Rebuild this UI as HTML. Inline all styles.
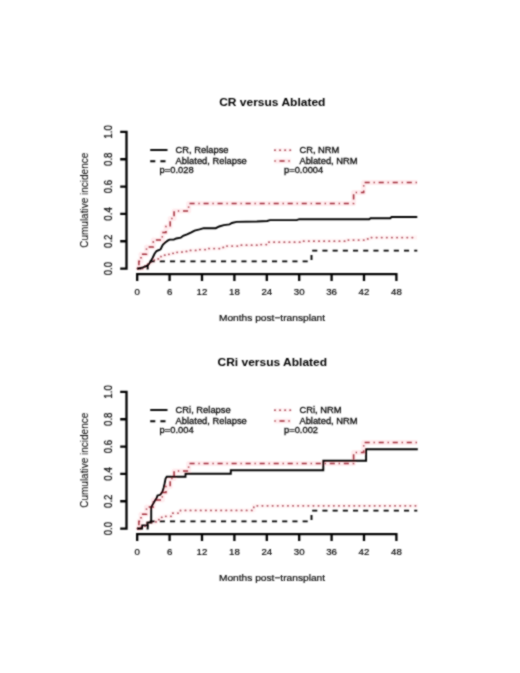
<!DOCTYPE html>
<html><head><meta charset="utf-8"><style>
html,body{margin:0;padding:0;background:#fff;}
body{width:520px;height:673px;overflow:hidden;}
svg{display:block;font-family:"Liberation Sans",sans-serif;}
text{fill:#000;stroke:#000;stroke-width:0.2px;}
</style></head><body>
<svg width="520" height="673" viewBox="0 0 520 673">
<defs><filter id="b" filterUnits="userSpaceOnUse" x="0" y="0" width="520" height="673"><feConvolveMatrix order="3" kernelMatrix="1 2 1 2 8 2 1 2 1" divisor="20" edgeMode="none"/></filter></defs>
<rect width="520" height="673" fill="#fff"/>
<g filter="url(#b)">
<g transform="translate(0,0)">
<text transform="translate(272.3,105.6) scale(1,0.98)" text-anchor="middle" font-size="12" font-weight="bold" style="stroke:none">CR versus Ablated</text>
<path d="M120.2,131.9H126.5V268.6H120.2M120.2,241.26H126.5M120.2,213.92H126.5M120.2,186.58H126.5M120.2,159.24H126.5" stroke="#000" stroke-width="2.3" fill="none"/>
<text transform="translate(112.1,268.60) rotate(-90) scale(1,1.2)" text-anchor="middle" font-size="9.7">0.0</text>
<text transform="translate(112.1,241.26) rotate(-90) scale(1,1.2)" text-anchor="middle" font-size="9.7">0.2</text>
<text transform="translate(112.1,213.92) rotate(-90) scale(1,1.2)" text-anchor="middle" font-size="9.7">0.4</text>
<text transform="translate(112.1,186.58) rotate(-90) scale(1,1.2)" text-anchor="middle" font-size="9.7">0.6</text>
<text transform="translate(112.1,159.24) rotate(-90) scale(1,1.2)" text-anchor="middle" font-size="9.7">0.8</text>
<text transform="translate(112.1,131.90) rotate(-90) scale(1,1.2)" text-anchor="middle" font-size="9.7">1.0</text>
<path d="M137.2,281.1V274.1H396.4V281.1M169.6,274.1V281.1M202.0,274.1V281.1M234.4,274.1V281.1M266.8,274.1V281.1M299.2,274.1V281.1M331.6,274.1V281.1M364.0,274.1V281.1" stroke="#000" stroke-width="2.3" fill="none"/>
<text transform="translate(137.2,294.9) scale(1,0.92)" text-anchor="middle" font-size="9.7">0</text>
<text transform="translate(169.6,294.9) scale(1,0.92)" text-anchor="middle" font-size="9.7">6</text>
<text transform="translate(202.0,294.9) scale(1,0.92)" text-anchor="middle" font-size="9.7">12</text>
<text transform="translate(234.4,294.9) scale(1,0.92)" text-anchor="middle" font-size="9.7">18</text>
<text transform="translate(266.8,294.9) scale(1,0.92)" text-anchor="middle" font-size="9.7">24</text>
<text transform="translate(299.2,294.9) scale(1,0.92)" text-anchor="middle" font-size="9.7">30</text>
<text transform="translate(331.6,294.9) scale(1,0.92)" text-anchor="middle" font-size="9.7">36</text>
<text transform="translate(364.0,294.9) scale(1,0.92)" text-anchor="middle" font-size="9.7">42</text>
<text transform="translate(396.4,294.9) scale(1,0.92)" text-anchor="middle" font-size="9.7">48</text>
<text transform="translate(272,320.6) scale(1,0.9)" text-anchor="middle" font-size="10.2">Months post−transplant</text>
<text transform="translate(87.6,200.25) rotate(-90)" text-anchor="middle" font-size="10" style="stroke-width:0.05px">Cumulative incidence</text>
<path d="M150.2,150H167.5" stroke="#000" stroke-width="1.9" fill="none"/>
<path d="M150.2,161.3H167.5" stroke="#000" stroke-width="1.9" stroke-dasharray="5.1 5.1" fill="none"/>
<text transform="translate(175.6,152.9) scale(1,1.0)" font-size="9.35" style="stroke-width:0.28px">CR, Relapse</text>
<text transform="translate(175.6,164.0) scale(1,1.0)" font-size="9.35" style="stroke-width:0.28px">Ablated, Relapse</text>
<text transform="translate(159.6,173.0) scale(1,1.0)" font-size="9.35" style="stroke-width:0.28px">p=0.028</text>
<path d="M274.8,150.2H291" stroke="#ff6a78" stroke-opacity="0.08" stroke-width="4" fill="none" stroke-linejoin="round"/>
<path d="M274.4,161.1H291" stroke="#ff6a78" stroke-opacity="0.13" stroke-width="5" fill="none" stroke-linejoin="round"/>
<path d="M274.8,150.2H291" stroke="#b0505e" stroke-width="1.75" stroke-linecap="round" stroke-dasharray="0.3 4.80" fill="none"/>
<path d="M274.4,161.1H291" stroke="#a02834" stroke-width="1.5" stroke-dasharray="1.275 3.8249999999999997 5.1 3.8249999999999997" fill="none"/>
<text transform="translate(299.4,152.9) scale(1,1.0)" font-size="9.35" style="stroke-width:0.28px">CR, NRM</text>
<text transform="translate(299.4,164.0) scale(1,1.0)" font-size="9.35" style="stroke-width:0.28px">Ablated, NRM</text>
<text transform="translate(284,173.2) scale(1,1.0)" font-size="9.35" style="stroke-width:0.28px">p=0.0004</text>
</g>
<polyline points="137.2,268.6 144.0,268.6 144.0,266.0 148.0,266.0 148.0,263.5 151.0,263.5 151.0,261.5 154.0,261.5 154.0,260.0 156.0,260.0 156.0,258.9 159.0,258.9 159.0,257.5 161.0,257.5 161.0,256.5 164.0,256.5 164.0,255.2 167.0,255.2 167.0,254.3 171.0,254.3 171.0,253.3 176.0,253.3 176.0,252.3 182.0,252.3 182.0,251.4 190.0,251.4 190.0,250.4 198.0,250.4 198.0,249.6 209.0,249.6 209.0,248.5 221.0,248.5 221.0,247.4 226.0,247.4 226.0,246.1 241.0,246.1 241.0,245.2 258.0,245.2 258.0,244.5 268.5,244.5 268.5,242.2 301.0,242.2 301.0,241.2 347.0,241.2 347.0,240.0 366.0,240.0 366.0,238.9 370.0,238.9 370.0,237.6 417.0,237.6" stroke="#ff6a78" stroke-opacity="0.08" stroke-width="4" fill="none" stroke-linejoin="round"/>
<polyline points="137.2,268.6 138.9,268.6 138.9,261.3 141.0,261.3 141.0,254.2 146.5,254.2 146.5,246.9 153.3,246.9 153.3,240.1 162.3,240.1 162.3,232.5 166.0,232.5 166.0,226.5 170.2,226.5 170.2,218.5 174.1,218.5 174.1,211.1 188.6,211.1 188.6,203.6 353.6,203.6 353.6,192.6 363.7,192.6 363.7,182.4 417.0,182.4" stroke="#ff6a78" stroke-opacity="0.13" stroke-width="5" fill="none" stroke-linejoin="round"/>
<polyline points="137.2,268.6 144.0,268.6 144.0,266.0 148.0,266.0 148.0,263.5 151.0,263.5 151.0,261.5 154.0,261.5 154.0,260.0 156.0,260.0 156.0,258.9 159.0,258.9 159.0,257.5 161.0,257.5 161.0,256.5 164.0,256.5 164.0,255.2 167.0,255.2 167.0,254.3 171.0,254.3 171.0,253.3 176.0,253.3 176.0,252.3 182.0,252.3 182.0,251.4 190.0,251.4 190.0,250.4 198.0,250.4 198.0,249.6 209.0,249.6 209.0,248.5 221.0,248.5 221.0,247.4 226.0,247.4 226.0,246.1 241.0,246.1 241.0,245.2 258.0,245.2 258.0,244.5 268.5,244.5 268.5,242.2 301.0,242.2 301.0,241.2 347.0,241.2 347.0,240.0 366.0,240.0 366.0,238.9 370.0,238.9 370.0,237.6 417.0,237.6" stroke="#b0505e" stroke-width="1.75" stroke-linecap="round" stroke-dasharray="0.3 4.80" fill="none"/>
<polyline points="137.2,268.6 138.9,268.6 138.9,261.3 141.0,261.3 141.0,254.2 146.5,254.2 146.5,246.9 153.3,246.9 153.3,240.1 162.3,240.1 162.3,232.5 166.0,232.5 166.0,226.5 170.2,226.5 170.2,218.5 174.1,218.5 174.1,211.1 188.6,211.1 188.6,203.6 353.6,203.6 353.6,192.6 363.7,192.6 363.7,182.4 417.0,182.4" stroke="#a02834" stroke-width="1.5" stroke-dasharray="1.275 3.8249999999999997 5.1 3.8249999999999997" fill="none"/>
<polyline points="137.2,268.6 147.7,268.6 147.7,261.4 311.5,261.4 311.5,250.6 417.3,250.6" stroke="#000" stroke-width="1.9" stroke-dasharray="5.1 5.1" fill="none" stroke-dashoffset="0.8"/>
<polyline points="137.2,268.6 142.7,267.5 146.7,266.0 148.5,264.5 150.3,262.0 152.6,258.0 154.4,254.0 156.5,251.0 159.0,250.0 160.6,249.3 161.9,246.5 163.0,244.5 165.2,242.5 168.1,240.4 169.5,239.6 173.8,239.6 176.2,238.5 180.8,237.7 183.1,235.8 187.0,234.4 190.8,232.6 194.6,230.6 199.6,229.4 203.7,228.2 215.8,228.2 219.2,226.5 223.8,225.1 229.6,224.4 231.9,223.0 236.5,221.9 256.9,221.5 267.3,221.0 269.9,220.1 296.7,220.1 299.3,219.2 369.3,219.2 370.5,218.2 390.3,218.2 391.5,217.0 417.3,217.0" stroke="#000" stroke-width="1.9" fill="none"/>
<g transform="translate(0,260)">
<text transform="translate(272.3,105.6) scale(1,0.98)" text-anchor="middle" font-size="12" font-weight="bold" style="stroke:none">CRi versus Ablated</text>
<path d="M120.2,131.9H126.5V268.6H120.2M120.2,241.26H126.5M120.2,213.92H126.5M120.2,186.58H126.5M120.2,159.24H126.5" stroke="#000" stroke-width="2.3" fill="none"/>
<text transform="translate(112.1,268.60) rotate(-90) scale(1,1.2)" text-anchor="middle" font-size="9.7">0.0</text>
<text transform="translate(112.1,241.26) rotate(-90) scale(1,1.2)" text-anchor="middle" font-size="9.7">0.2</text>
<text transform="translate(112.1,213.92) rotate(-90) scale(1,1.2)" text-anchor="middle" font-size="9.7">0.4</text>
<text transform="translate(112.1,186.58) rotate(-90) scale(1,1.2)" text-anchor="middle" font-size="9.7">0.6</text>
<text transform="translate(112.1,159.24) rotate(-90) scale(1,1.2)" text-anchor="middle" font-size="9.7">0.8</text>
<text transform="translate(112.1,131.90) rotate(-90) scale(1,1.2)" text-anchor="middle" font-size="9.7">1.0</text>
<path d="M137.2,281.1V274.1H396.4V281.1M169.6,274.1V281.1M202.0,274.1V281.1M234.4,274.1V281.1M266.8,274.1V281.1M299.2,274.1V281.1M331.6,274.1V281.1M364.0,274.1V281.1" stroke="#000" stroke-width="2.3" fill="none"/>
<text transform="translate(137.2,294.9) scale(1,0.92)" text-anchor="middle" font-size="9.7">0</text>
<text transform="translate(169.6,294.9) scale(1,0.92)" text-anchor="middle" font-size="9.7">6</text>
<text transform="translate(202.0,294.9) scale(1,0.92)" text-anchor="middle" font-size="9.7">12</text>
<text transform="translate(234.4,294.9) scale(1,0.92)" text-anchor="middle" font-size="9.7">18</text>
<text transform="translate(266.8,294.9) scale(1,0.92)" text-anchor="middle" font-size="9.7">24</text>
<text transform="translate(299.2,294.9) scale(1,0.92)" text-anchor="middle" font-size="9.7">30</text>
<text transform="translate(331.6,294.9) scale(1,0.92)" text-anchor="middle" font-size="9.7">36</text>
<text transform="translate(364.0,294.9) scale(1,0.92)" text-anchor="middle" font-size="9.7">42</text>
<text transform="translate(396.4,294.9) scale(1,0.92)" text-anchor="middle" font-size="9.7">48</text>
<text transform="translate(272,320.6) scale(1,0.9)" text-anchor="middle" font-size="10.2">Months post−transplant</text>
<text transform="translate(87.6,200.25) rotate(-90)" text-anchor="middle" font-size="10" style="stroke-width:0.05px">Cumulative incidence</text>
<path d="M150.2,150H167.5" stroke="#000" stroke-width="1.9" fill="none"/>
<path d="M150.2,161.3H167.5" stroke="#000" stroke-width="1.9" stroke-dasharray="5.1 5.1" fill="none"/>
<text transform="translate(175.6,152.9) scale(1,1.0)" font-size="9.35" style="stroke-width:0.28px">CRi, Relapse</text>
<text transform="translate(175.6,164.0) scale(1,1.0)" font-size="9.35" style="stroke-width:0.28px">Ablated, Relapse</text>
<text transform="translate(159.6,173.0) scale(1,1.0)" font-size="9.35" style="stroke-width:0.28px">p=0.004</text>
<path d="M274.8,150.2H291" stroke="#ff6a78" stroke-opacity="0.08" stroke-width="4" fill="none" stroke-linejoin="round"/>
<path d="M274.4,161.1H291" stroke="#ff6a78" stroke-opacity="0.13" stroke-width="5" fill="none" stroke-linejoin="round"/>
<path d="M274.8,150.2H291" stroke="#b0505e" stroke-width="1.75" stroke-linecap="round" stroke-dasharray="0.3 4.80" fill="none"/>
<path d="M274.4,161.1H291" stroke="#a02834" stroke-width="1.5" stroke-dasharray="1.275 3.8249999999999997 5.1 3.8249999999999997" fill="none"/>
<text transform="translate(299.4,152.9) scale(1,1.0)" font-size="9.35" style="stroke-width:0.28px">CRi, NRM</text>
<text transform="translate(299.4,164.0) scale(1,1.0)" font-size="9.35" style="stroke-width:0.28px">Ablated, NRM</text>
<text transform="translate(284,173.2) scale(1,1.0)" font-size="9.35" style="stroke-width:0.28px">p=0.002</text>
</g>
<polyline points="137.2,528.6 141.0,528.6 141.0,526.0 147.0,526.0 147.0,522.5 156.0,522.5 156.0,519.5 160.0,519.5 160.0,517.3 163.0,517.3 163.0,516.3 172.0,516.3 172.0,513.2 178.0,513.2 178.0,512.5 180.5,512.5 180.5,510.4 253.8,510.4 253.8,505.8 417.8,505.8" stroke="#ff6a78" stroke-opacity="0.08" stroke-width="4" fill="none" stroke-linejoin="round"/>
<polyline points="137.2,528.6 138.9,528.6 138.9,521.3 141.0,521.3 141.0,514.2 146.5,514.2 146.5,506.9 153.3,506.9 153.3,500.1 162.3,500.1 162.3,492.5 166.0,492.5 166.0,486.5 170.2,486.5 170.2,478.5 174.1,478.5 174.1,471.1 188.6,471.1 188.6,463.6 353.6,463.6 353.6,452.6 363.7,452.6 363.7,442.4 417.0,442.4" stroke="#ff6a78" stroke-opacity="0.13" stroke-width="5" fill="none" stroke-linejoin="round"/>
<polyline points="137.2,528.6 141.0,528.6 141.0,526.0 147.0,526.0 147.0,522.5 156.0,522.5 156.0,519.5 160.0,519.5 160.0,517.3 163.0,517.3 163.0,516.3 172.0,516.3 172.0,513.2 178.0,513.2 178.0,512.5 180.5,512.5 180.5,510.4 253.8,510.4 253.8,505.8 417.8,505.8" stroke="#b0505e" stroke-width="1.75" stroke-linecap="round" stroke-dasharray="0.3 4.80" fill="none"/>
<polyline points="137.2,528.6 138.9,528.6 138.9,521.3 141.0,521.3 141.0,514.2 146.5,514.2 146.5,506.9 153.3,506.9 153.3,500.1 162.3,500.1 162.3,492.5 166.0,492.5 166.0,486.5 170.2,486.5 170.2,478.5 174.1,478.5 174.1,471.1 188.6,471.1 188.6,463.6 353.6,463.6 353.6,452.6 363.7,452.6 363.7,442.4 417.0,442.4" stroke="#a02834" stroke-width="1.5" stroke-dasharray="1.275 3.8249999999999997 5.1 3.8249999999999997" fill="none"/>
<polyline points="137.2,528.6 147.7,528.6 147.7,521.4 311.5,521.4 311.5,510.6 417.3,510.6" stroke="#000" stroke-width="1.9" stroke-dasharray="5.1 5.1" fill="none" stroke-dashoffset="0.8"/>
<polyline points="137.2,528.5 142.1,528.5 142.1,525.4 147.5,525.4 147.5,522.5 151.2,522.5 151.2,507.3 153.0,504.0 155.0,500.5 156.9,497.5 157.5,495.6 160.4,494.8 162.5,491.5 163.6,488.0 164.5,484.0 165.6,478.5 166.7,476.7 185.5,476.7 185.5,473.8 230.8,473.8 230.8,470.3 323.3,470.3 323.3,460.8 366.1,460.8 366.1,449.2 417.8,449.2" stroke="#000" stroke-width="1.9" fill="none"/>
</g>
</svg>
</body></html>
